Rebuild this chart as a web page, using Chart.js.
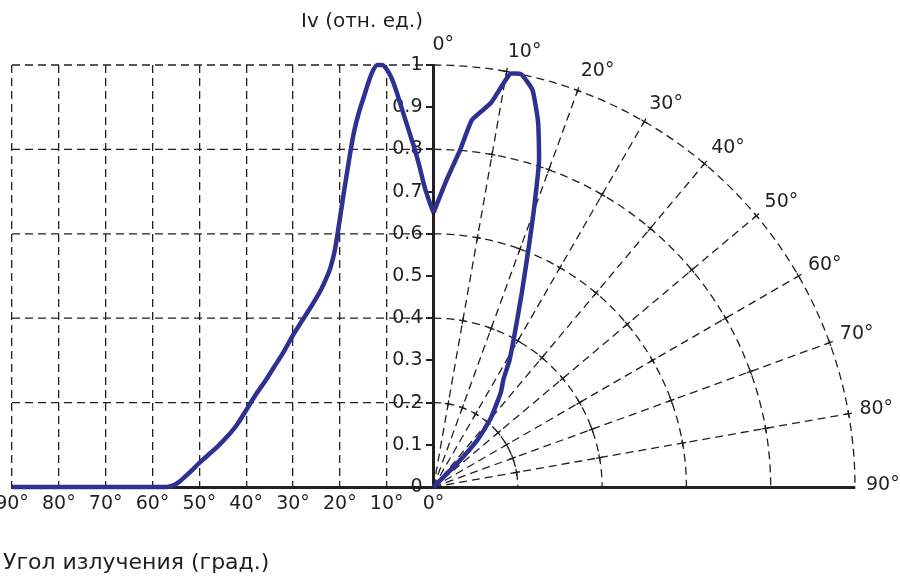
<!DOCTYPE html>
<html lang="ru">
<head>
<meta charset="UTF-8">
<title>Диаграмма направленности</title>
<style>
  body { margin: 0; background: #ffffff; }
  #chart { display: block; }
</style>
<script src="https://cdn.jsdelivr.net/npm/chart.js"></script>
</head>
<body>
<canvas id="chart" width="900" height="577"></canvas>
<script>
// left half: angle from the axis (deg) and relative intensity Iv
const angleDeg  = [90, 80, 70, 60, 57, 55, 54, 52, 50, 48, 46, 44, 42, 40, 38, 36, 34, 32, 30, 28, 26, 24, 23, 22, 21, 20, 19, 18, 17, 16, 15, 14, 13, 12, 11, 10, 9, 8, 7, 6, 5, 4, 3, 2, 1, 0];
const intensity = [0, 0, 0, 0, 0, 0.007, 0.015, 0.035, 0.057, 0.077, 0.097, 0.12, 0.147, 0.182, 0.218, 0.25, 0.285, 0.32, 0.36, 0.395, 0.43, 0.468, 0.492, 0.52, 0.565, 0.635, 0.708, 0.777, 0.84, 0.885, 0.92, 0.955, 0.985, 1.0, 1.0, 0.99, 0.97, 0.94, 0.905, 0.87, 0.835, 0.80, 0.76, 0.715, 0.68, 0.65];

// right half: polar curve, angle (deg) and radius Iv
const polarAngle = [0, 2.5, 4.5, 6, 8.5, 10.5, 12, 14, 16, 18, 20, 21.5, 24.5, 28, 31, 33, 35.5, 40, 43, 45, 50];
const polarR     = [0.65, 0.73, 0.80, 0.875, 0.92, 0.995, 1.0, 0.97, 0.90, 0.81, 0.695, 0.62, 0.505, 0.41, 0.35, 0.305, 0.275, 0.21, 0.153, 0.08, 0];

const xTickAngles  = [90, 80, 70, 60, 50, 40, 30, 20, 10, 0];
const radialAngles = [10, 20, 30, 40, 50, 60, 70, 80];
const polarLabels  = [0, 10, 20, 30, 40, 50, 60, 70, 80, 90];
const gridLevels   = [0.2, 0.4, 0.6, 0.8, 1];

const ink = '#231f20';
const curveColor = '#2e3192';
const rad = a => a * Math.PI / 180;

Chart.defaults.font.family = '"DejaVu Sans", sans-serif';
Chart.defaults.font.size = 19;
Chart.defaults.color = ink;

const cartesian = angleDeg.map((a, i) => ({ x: -a / 90, y: intensity[i] }));
const polar = polarAngle.map((a, i) => ({ x: polarR[i] * Math.sin(rad(a)), y: polarR[i] * Math.cos(rad(a)) }));

const polarGrid = {
  id: 'polarGrid',
  beforeDatasetsDraw(chart) {
    const { ctx, scales: { x, y } } = chart;
    const cx = x.getPixelForValue(0), cy = y.getPixelForValue(0);
    const left = x.getPixelForValue(-1);
    ctx.save();
    ctx.strokeStyle = ink;
    ctx.lineWidth = 1.3;
    ctx.setLineDash([8, 5]);
    gridLevels.forEach(r => {
      const py = y.getPixelForValue(r);
      ctx.beginPath();
      ctx.moveTo(left, py);
      ctx.lineTo(cx, py);
      ctx.stroke();
      const rx = x.getPixelForValue(r) - cx, ry = cy - py;
      ctx.beginPath();
      ctx.ellipse(cx, cy, rx, ry, 0, -Math.PI / 2, 0);
      ctx.stroke();
    });
    radialAngles.forEach(a => {
      ctx.beginPath();
      ctx.moveTo(cx, cy);
      ctx.lineTo(x.getPixelForValue(Math.sin(rad(a))), y.getPixelForValue(Math.cos(rad(a))));
      ctx.stroke();
    });
    // small marks where rays meet arcs
    ctx.setLineDash([]);
    radialAngles.forEach(a => {
      const s = Math.sin(rad(a)), c = Math.cos(rad(a));
      gridLevels.forEach(r => {
        const px = x.getPixelForValue(r * s), py = y.getPixelForValue(r * c);
        ctx.beginPath();
        ctx.moveTo(px - 3.5 * c, py - 3.5 * s);
        ctx.lineTo(px + 3.5 * c, py + 3.5 * s);
        ctx.moveTo(px - 3.5 * s, py + 3.5 * c);
        ctx.lineTo(px + 3.5 * s, py - 3.5 * c);
        ctx.stroke();
      });
    });
    ctx.restore();
  },
  afterDraw(chart) {
    const { ctx, scales: { x, y } } = chart;
    ctx.save();
    ctx.fillStyle = ink;
    ctx.font = '19px "DejaVu Sans", sans-serif';
    ctx.textAlign = 'left';
    ctx.textBaseline = 'middle';
    polarLabels.forEach(a => {
      const s = Math.sin(rad(a)), c = Math.cos(rad(a));
      const px = x.getPixelForValue(s), py = y.getPixelForValue(c);
      ctx.fillText(a + '°', px + 12 * s - 1, py - 18 * c - 2);
    });
    ctx.font = '20px "DejaVu Sans", sans-serif';
    ctx.textAlign = 'center';
    ctx.fillText('Iv (отн. ед.)', 362, 22);
    ctx.font = '22px "DejaVu Sans", sans-serif';
    ctx.textAlign = 'left';
    ctx.fillText('Угол излучения (град.)', 3, 563);
    ctx.restore();
  }
};

new Chart(document.getElementById('chart'), {
  type: 'scatter',
  data: {
    datasets: [
      {
        label: 'Iv',
        data: cartesian,
        showLine: true,
        borderColor: curveColor,
        borderWidth: 4.5,
        pointRadius: 0,
        cubicInterpolationMode: 'monotone',
        clip: false
      },
      {
        label: 'Iv polar',
        data: polar,
        showLine: true,
        borderColor: curveColor,
        borderWidth: 4.5,
        borderJoinStyle: 'round',
        pointRadius: 0,
        tension: 0.15,
        clip: false
      }
    ]
  },
  options: {
    responsive: false,
    animation: false,
    layout: { padding: { left: 12, right: 45, top: 65, bottom: 0 } },
    plugins: { legend: { display: false }, tooltip: { enabled: false } },
    scales: {
      x: {
        type: 'linear',
        min: -1,
        max: 1,
        afterBuildTicks: s => { s.ticks = xTickAngles.map(a => ({ value: -a / 90 })); },
        afterFit: s => { s.height = 90; s.paddingLeft = 0; s.paddingRight = 0; },
        ticks: {
          autoSkip: false,
          maxRotation: 0,
          padding: 6,
          callback: v => Math.abs(Math.round(v * 90)) + '°'
        },
        grid: {
          drawTicks: false,
          lineWidth: 1.3,
          color: c => (c.tick && c.tick.value < -1e-6) ? ink : 'rgba(0,0,0,0)'
        },
        border: { color: ink, width: 3, dash: [8, 5] }
      },
      // central axis line with tick marks
      y: {
        type: 'linear',
        min: 0,
        max: 1,
        position: { x: 0 },
        afterFit: s => { s.paddingTop = 0; s.paddingBottom = 0; },
        ticks: { stepSize: 0.1, display: false },
        grid: { drawOnChartArea: false, drawTicks: true, tickLength: 6, lineWidth: 2, color: ink },
        border: { color: ink, width: 3 }
      },
      // its tick labels, set just left of the tick marks
      yl: {
        type: 'linear',
        min: 0,
        max: 1,
        position: { x: -11 / 421.5 },
        afterFit: s => { s.paddingTop = 0; s.paddingBottom = 0; },
        ticks: {
          stepSize: 0.1,
          callback: v => String(Math.round(v * 10) / 10)
        },
        grid: { display: false },
        border: { display: false }
      }
    }
  },
  plugins: [polarGrid]
});
</script>
</body>
</html>
